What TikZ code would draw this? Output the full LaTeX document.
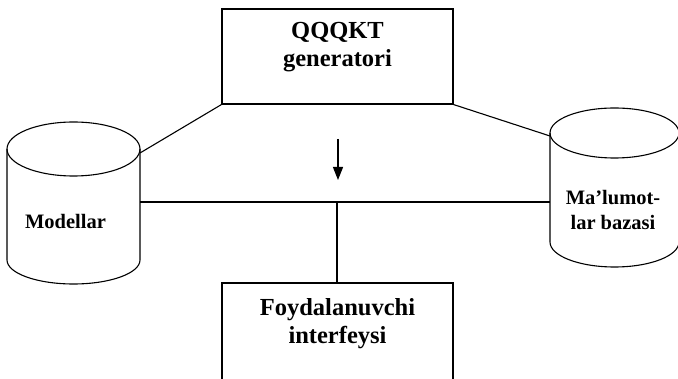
\documentclass[tikz,border=0pt]{standalone}
\usepackage{fontspec}
\setmainfont{Liberation Serif}
\usetikzlibrary{arrows.meta}
\begin{document}
\begin{tikzpicture}[x=1pt,y=-1pt,
  ln/.style={line width=1.1pt, draw=black},
  boxstyle/.style={draw=black, line width=1.1pt, rectangle, inner sep=0pt},
  boxtext/.style={font=\fontsize{24.5}{28}\selectfont\bfseries, align=center, inner sep=0pt, anchor=north},
  cyltext/.style={font=\fontsize{20.5}{25}\selectfont\bfseries, align=center, inner sep=0pt}]
\useasboundingbox (0,0) rectangle (678,379);
\fill[white] (0,0) rectangle (678,379);
% boxes
\node[boxstyle, minimum width=231pt, minimum height=95pt] (gen) at (337.5,56.5) {};
\node[boxtext] (gentext) at (337.5,22.5) {QQQKT\\generatori};
\node[boxstyle, minimum width=231pt, minimum height=99pt] (ui) at (337.5,332.5) {};
\node[boxtext] (uitext) at (337.5,298.5) {Foydalanuvchi\\interfeysi};
% left cylinder
\coordinate (modtop) at (73.5,149);
\draw[ln] (modtop) ellipse[x radius=66.5, y radius=27];
\draw[ln] (7,149) -- (7,260) arc[start angle=180, end angle=0, x radius=66.5, y radius=24] -- (140,149);
\node[cyltext, anchor=base] (modtext) at (65.5,229) {Modellar};
% right cylinder
\coordinate (dbtop) at (614.5,133);
\draw[ln] (dbtop) ellipse[x radius=64.5, y radius=25];
\draw[ln] (550,133) -- (550,242) arc[start angle=180, end angle=0, x radius=64.5, y radius=25] -- (679,133);
\node[cyltext, anchor=north] (dbtext) at (613,190) {Ma’lumot-\\lar bazasi};
% connectors
\coordinate (modA) at (140,153);
\coordinate (modB) at (140,202);
\coordinate (dbA) at (550,136);
\coordinate (dbB) at (550,202);
\coordinate (bus) at (337,202);
\draw[ln] (gen.south west) -- (modA);
\draw[ln] (gen.south east) -- (dbA);
\draw[ln] (modB) -- (dbB);
\draw[ln] (bus) -- (bus |- ui.north);
\coordinate (arrA) at (338,139);
\coordinate (arrB) at (338,180);
\draw[ln, -{Triangle[length=13pt,width=10pt]}] (arrA) -- (arrB);
\end{tikzpicture}
\end{document}
